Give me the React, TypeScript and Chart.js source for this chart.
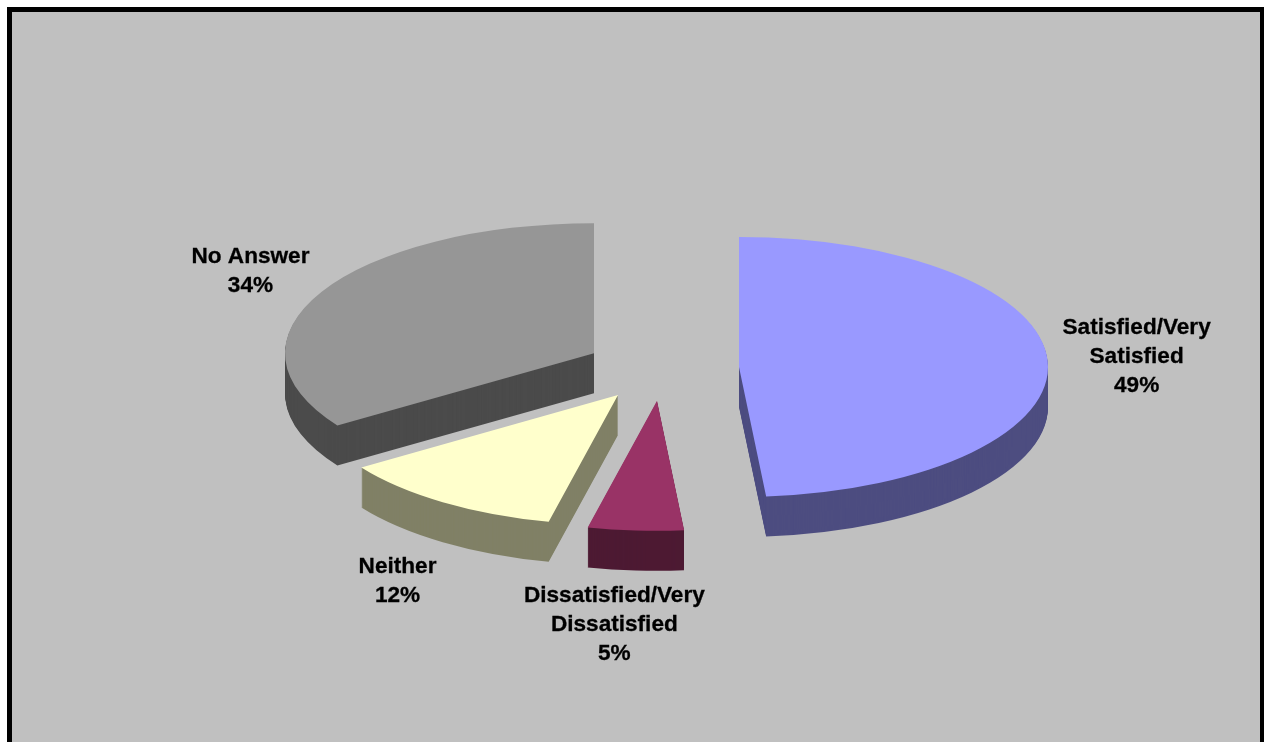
import React, { useEffect, useRef } from "react";
import { Chart, registerables } from "chart.js";

Chart.register(...registerables);

const categories = ["Satisfied/Very Satisfied", "Dissatisfied/Very Dissatisfied", "Neither", "No Answer"];
const labelLines = [["Satisfied/Very", "Satisfied"], ["Dissatisfied/Very", "Dissatisfied"], ["Neither"], ["No Answer"]];
const values = [48.6, 5.0, 12.0, 34.4];
const topColors = ["#9999FF", "#993366", "#FFFFCC", "#969696"];
const wallColors = ["#4D4D80", "#4D1A33", "#808066", "#4B4B4B"];

const TILT = 0.4207;
const DEPTH = 40;
const EXPLODE = 77;
const LINE_HEIGHT = 29;
const labelNudge = [[89, -4.5], [-21, 94], [-45.5, 79.5], [-71, -20.5]];

const pie3d = {
  id: "pie3d",
  beforeDatasetsDraw(chart: any) {
    const ctx = chart.ctx;
    const meta = chart.getDatasetMeta(0);
    const arcs: any[] = meta.data;
    const place = (arc: any, drop: number) => {
      const mid = (arc.startAngle + arc.endAngle) / 2;
      // whole-pixel sideways shift keeps vertical slice edges crisp
      const dx = Math.round(arc.x + Math.cos(mid) * EXPLODE) - arc.x;
      ctx.translate(dx, drop);
      ctx.translate(0, arc.y);
      ctx.scale(1, TILT);
      ctx.translate(0, -arc.y);
      ctx.translate(0, Math.sin(mid) * EXPLODE);
    };
    // side walls
    arcs.forEach((arc, i) => {
      const top = arc.options.backgroundColor;
      arc.options.backgroundColor = wallColors[i];
      for (let d = DEPTH; d >= 1; d--) {
        ctx.save();
        place(arc, d);
        arc.draw(ctx);
        ctx.restore();
      }
      arc.options.backgroundColor = top;
    });
    // top faces
    arcs.forEach((arc) => {
      ctx.save();
      place(arc, 0);
      arc.draw(ctx);
      ctx.restore();
    });
    // labels
    const total = values.reduce((a, b) => a + b, 0);
    ctx.save();
    ctx.font = "bold 22.6px 'Liberation Sans', Arial, sans-serif";
    ctx.fillStyle = "#000000";
    ctx.strokeStyle = "#000000";
    ctx.lineWidth = 0.3;
    ctx.textAlign = "center";
    ctx.textBaseline = "middle";
    arcs.forEach((arc, i) => {
      const mid = (arc.startAngle + arc.endAngle) / 2;
      const ex = arc.x + Math.cos(mid) * (EXPLODE + arc.outerRadius);
      const ey = arc.y + Math.sin(mid) * (EXPLODE + arc.outerRadius) * TILT;
      const lines = [...labelLines[i], Math.round((values[i] / total) * 100) + "%"];
      const cx = ex + labelNudge[i][0];
      const cy = ey + labelNudge[i][1];
      lines.forEach((t, j) => {
        const y = cy + (j - (lines.length - 1) / 2) * LINE_HEIGHT;
        ctx.fillText(t, cx, y);
        ctx.strokeText(t, cx, y);
      });
    });
    ctx.restore();
    return false;
  },
};

export default function App() {
  const ref = useRef<HTMLCanvasElement>(null);
  useEffect(() => {
    const chart = new Chart(ref.current as HTMLCanvasElement, {
      type: "pie",
      data: {
        labels: categories,
        datasets: [{ data: values, backgroundColor: topColors, borderWidth: 0 }],
      },
      options: {
        animation: false,
        responsive: false,
        devicePixelRatio: 1,
        radius: 309,
        events: [],
        layout: { padding: { left: 60, bottom: 5.2 } },
        plugins: { legend: { display: false }, tooltip: { enabled: false } },
      } as any,
      plugins: [pie3d as any],
    });
    return () => chart.destroy();
  }, []);
  return (
    <div style={{ position: "fixed", inset: 0, overflow: "hidden", background: "#FFFFFF" }}>
      <div
        style={{
          position: "absolute",
          left: 7,
          top: 7,
          width: 1257,
          height: 800,
          boxSizing: "border-box",
          background: "#C0C0C0",
          border: "5px solid #000000",
          borderRightWidth: 4,
        }}
      />
      <canvas ref={ref} width={1264} height={742} style={{ position: "absolute", left: 0, top: 0, width: 1264, height: 742 }} />
    </div>
  );
}
